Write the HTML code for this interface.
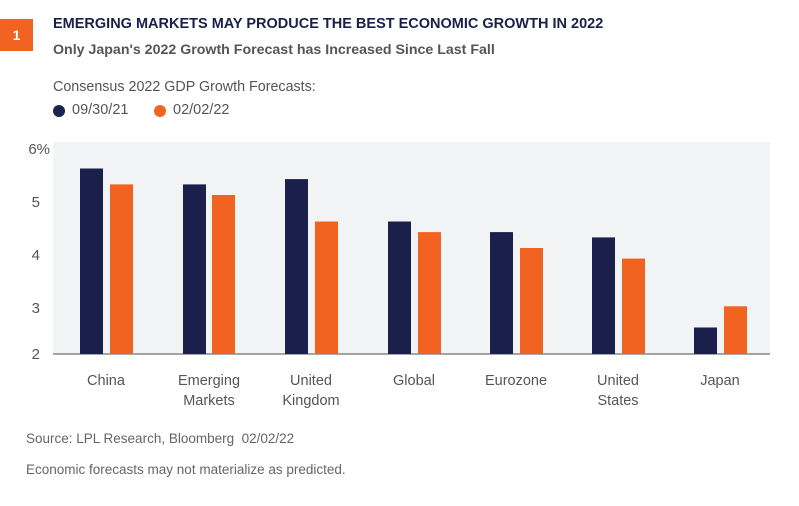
<!DOCTYPE html><html><head><style>
body{margin:0;width:799px;height:506px;background:#fff;font-family:"Liberation Sans",sans-serif;position:relative;overflow:hidden}
.a{position:absolute;white-space:nowrap}
</style></head><body>
<div class="a" style="left:0;top:19px;width:33px;height:32px;background:#f26322;color:#fff;font-weight:bold;font-size:14px;line-height:32px;text-align:center">1</div>
<div class="a" style="left:53px;top:16px;font-size:14.5px;font-weight:bold;color:#1a1f4b">EMERGING MARKETS MAY PRODUCE THE BEST ECONOMIC GROWTH IN 2022</div>
<div class="a" style="left:53px;top:42px;font-size:14.2px;font-weight:bold;color:#555">Only Japan's 2022 Growth Forecast has Increased Since Last Fall</div>
<div class="a" style="left:53px;top:79px;font-size:14.3px;color:#555">Consensus 2022 GDP Growth Forecasts:</div>
<div class="a" style="left:53px;top:105px;width:12px;height:12px;border-radius:50%;background:#1a2550"></div>
<div class="a" style="left:72px;top:102px;font-size:14.5px;color:#555">09/30/21</div>
<div class="a" style="left:154px;top:105px;width:12px;height:12px;border-radius:50%;background:#f26322"></div>
<div class="a" style="left:173px;top:102px;font-size:14.5px;color:#555">02/02/22</div>
<svg class="a" style="left:0;top:0" width="799" height="506">
<rect x="53" y="142" width="717" height="212" fill="#f2f3f5"/>
<g font-size="15" fill="#555" text-anchor="end" font-family="Liberation Sans">
<text x="50" y="154">6%</text><text x="40" y="207">5</text><text x="40" y="260">4</text><text x="40" y="313">3</text><text x="40" y="359">2</text></g>
<line x1="53" y1="354" x2="770" y2="354" stroke="#888" stroke-width="1.5"/>
<g fill="#1a1f4b">
<rect x="80" y="168.5" width="23" height="185.5"/><rect x="183" y="184.4" width="23" height="169.6"/><rect x="285" y="179.1" width="23" height="174.9"/><rect x="388" y="221.5" width="23" height="132.5"/><rect x="490" y="232.1" width="23" height="121.9"/><rect x="592" y="237.4" width="23" height="116.6"/><rect x="694" y="327.5" width="23" height="26.5"/></g>
<g fill="#f26322">
<rect x="110" y="184.4" width="23" height="169.6"/><rect x="212" y="195" width="23" height="159"/><rect x="315" y="221.5" width="23" height="132.5"/><rect x="418" y="232.1" width="23" height="121.9"/><rect x="520" y="248" width="23" height="106"/><rect x="622" y="258.6" width="23" height="95.4"/><rect x="724" y="306.3" width="23" height="47.7"/></g>
<g font-size="14.5" fill="#555" text-anchor="middle" font-family="Liberation Sans">
<text x="106" y="385">China</text>
<text x="209" y="385">Emerging</text><text x="209" y="405">Markets</text>
<text x="311" y="385">United</text><text x="311" y="405">Kingdom</text>
<text x="414" y="385">Global</text>
<text x="516" y="385">Eurozone</text>
<text x="618" y="385">United</text><text x="618" y="405">States</text>
<text x="720" y="385">Japan</text></g>
</svg>
<div class="a" style="left:26px;top:431px;font-size:13.5px;color:#666">Source: LPL Research, Bloomberg&nbsp; 02/02/22</div>
<div class="a" style="left:26px;top:462px;font-size:13.5px;color:#666">Economic forecasts may not materialize as predicted.</div>
</body></html>
